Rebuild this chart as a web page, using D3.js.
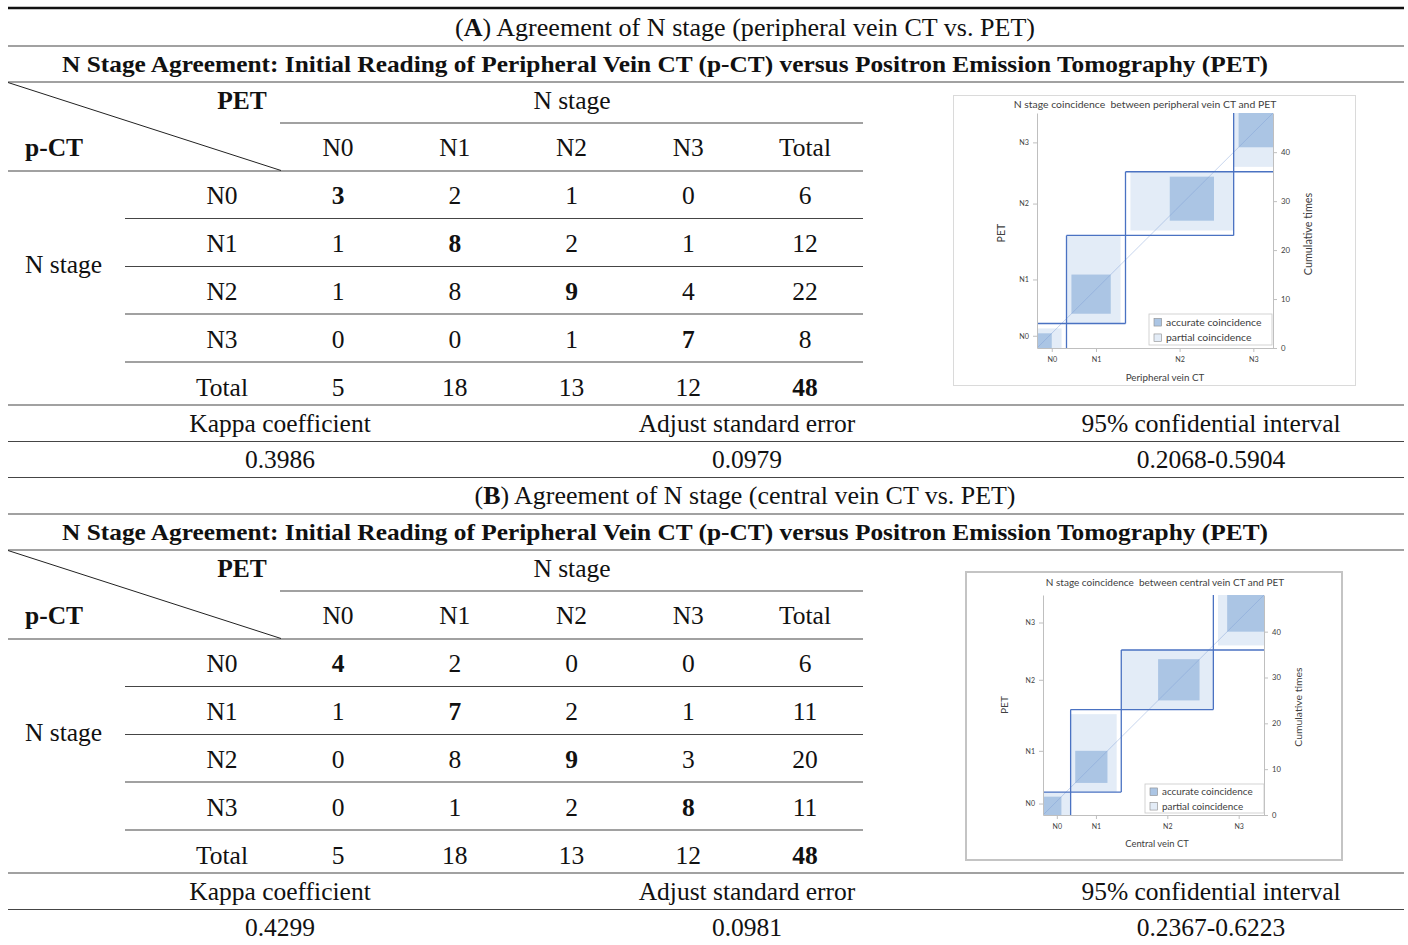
<!DOCTYPE html>
<html>
<head>
<meta charset="utf-8">
<script src="https://cdn.jsdelivr.net/npm/d3@7"></script>
<style>
  html, body { margin: 0; padding: 0; background: #fff; }
  svg { display: block; }
  .serif { font-family: "Liberation Serif", "Times New Roman", serif; fill: #111; }
  .sans { font-family: Lato, "Open Sans", sans-serif; fill: #404040; }
</style>
</head>
<body>
<div id="chart"></div>
<script>
// ---- data ----
const stages = ["N0", "N1", "N2", "N3"];
const columns = ["N0", "N1", "N2", "N3", "Total"];

// rows = p-CT stage, columns = PET stage
const matrixA = [
    [3, 2, 1, 0],
    [1, 8, 2, 1],
    [1, 8, 9, 4],
    [0, 0, 1, 7]
];
const matrixB = [
    [4, 2, 0, 0],
    [1, 7, 2, 1],
    [0, 8, 9, 3],
    [0, 1, 2, 8]
];

const statLabels = ["Kappa coefficient", "Adjust standard error", "95% confidential interval"];
const statsA = ["0.3986", "0.0979", "0.2068-0.5904"];
const statsB = ["0.4299", "0.0981", "0.2367-0.6223"];

const cumTicks = [0, 10, 20, 30, 40];

const mainTitle = "N Stage Agreement: Initial Reading of Peripheral Vein CT (p-CT) versus Positron Emission Tomography (PET)";

const W = 1408, H = 945;
const lineColor = "#454545";

const svg = d3.select("#chart").append("svg")
    .attr("width", W)
    .attr("height", H);

svg.append("rect").attr("width", W).attr("height", H).attr("fill", "#fff");

// ------------------------------------------------------------------
function hline(g, y, x1, x2, w) {
    g.append("line")
        .attr("x1", x1).attr("x2", x2)
        .attr("y1", y).attr("y2", y)
        .attr("stroke", w > 2 ? "#111" : lineColor)
        .attr("stroke-width", w || 1.2);
}

// ------------------------------------------------------------------
function drawTable(oy, letter, caption, captionLen, matrix, stats, topRule) {
    const g = svg.append("g").attr("transform", `translate(0,${oy})`);

    const rowTot = matrix.map(r => d3.sum(r));
    const colTot = stages.map((_, j) => d3.sum(matrix, r => r[j]));
    const grand = d3.sum(rowTot);

    // rules
    if (topRule) hline(g, 8, 8, 1404, 2.6);
    hline(g, 46, 8, 1404);
    hline(g, 82, 8, 1404);
    hline(g, 123, 280, 863);
    hline(g, 171, 8, 863);
    [218.5, 266.5, 314, 362].forEach(y => hline(g, y, 125, 863));
    hline(g, 405, 8, 1404);
    hline(g, 441.5, 8, 1404);
    hline(g, 477.5, 8, 1404);

    // header diagonal
    g.append("line")
        .attr("x1", 8).attr("y1", 82.5)
        .attr("x2", 281).attr("y2", 170.5)
        .attr("stroke", "#222").attr("stroke-width", 1);

    // captions
    const cap = g.append("text").attr("class", "serif")
        .attr("x", 745).attr("y", 35.5)
        .attr("text-anchor", "middle")
        .attr("font-size", 24.5)
        .attr("textLength", captionLen)
        .attr("lengthAdjust", "spacingAndGlyphs");
    cap.append("tspan").text("(");
    cap.append("tspan").attr("font-weight", "bold").text(letter);
    cap.append("tspan").text(") " + caption);

    g.append("text").attr("class", "serif")
        .attr("x", 665).attr("y", 71.5)
        .attr("text-anchor", "middle")
        .attr("font-size", 23.5)
        .attr("font-weight", "bold")
        .attr("textLength", 1206)
        .attr("lengthAdjust", "spacingAndGlyphs")
        .text(mainTitle);

    const fs = 25.5;

    g.append("text").attr("class", "serif")
        .attr("x", 242).attr("y", 108.5).attr("text-anchor", "middle")
        .attr("font-size", fs).attr("font-weight", "bold").text("PET");
    g.append("text").attr("class", "serif")
        .attr("x", 572).attr("y", 108.5).attr("text-anchor", "middle")
        .attr("font-size", fs).text("N stage");
    g.append("text").attr("class", "serif")
        .attr("x", 25).attr("y", 156).attr("font-size", fs)
        .attr("font-weight", "bold").text("p-CT");
    g.append("text").attr("class", "serif")
        .attr("x", 25).attr("y", 272.5).attr("font-size", fs).text("N stage");

    const xCol = d3.scalePoint().domain(columns).range([338, 805]);
    const yRow = d3.scalePoint().domain(columns).range([195, 387]);

    g.selectAll("text.colhead")
        .data(columns)
        .enter().append("text")
        .attr("class", "serif colhead")
        .attr("x", d => xCol(d)).attr("y", 156)
        .attr("text-anchor", "middle").attr("font-size", fs)
        .text(d => d);

    g.selectAll("text.rowhead")
        .data(columns)
        .enter().append("text")
        .attr("class", "serif rowhead")
        .attr("x", 222).attr("y", d => yRow(d) + 8.5)
        .attr("text-anchor", "middle").attr("font-size", fs)
        .text(d => d);

    // cells (including totals)
    const cells = [];
    matrix.forEach((r, i) => {
        r.forEach((v, j) => cells.push({ row: stages[i], col: stages[j], v, bold: i === j }));
        cells.push({ row: stages[i], col: "Total", v: rowTot[i], bold: false });
    });
    colTot.forEach((v, j) => cells.push({ row: "Total", col: stages[j], v, bold: false }));
    cells.push({ row: "Total", col: "Total", v: grand, bold: true });

    g.selectAll("text.cell")
        .data(cells)
        .enter().append("text")
        .attr("class", "serif cell")
        .attr("x", d => xCol(d.col)).attr("y", d => yRow(d.row) + 8.5)
        .attr("text-anchor", "middle").attr("font-size", fs)
        .attr("font-weight", d => d.bold ? "bold" : "normal")
        .text(d => d.v);

    // statistics
    const xStat = d3.scalePoint().domain(statLabels).range([280, 1211]);
    g.selectAll("text.statlab")
        .data(statLabels)
        .enter().append("text")
        .attr("class", "serif statlab")
        .attr("x", d => xStat(d) + (d === statLabels[1] ? 1.5 : 0)).attr("y", 431.5)
        .attr("text-anchor", "middle").attr("font-size", fs)
        .text(d => d);
    g.selectAll("text.statval")
        .data(stats)
        .enter().append("text")
        .attr("class", "serif statval")
        .attr("x", (d, i) => xStat(statLabels[i]) + (i === 1 ? 1.5 : 0)).attr("y", 467.5)
        .attr("text-anchor", "middle").attr("font-size", fs)
        .text(d => d);
}

// ------------------------------------------------------------------
// Agreement chart (accurate / partial coincidence)
function drawAgreement(matrix, cfg) {
    const g = svg.append("g");

    g.append("rect")
        .attr("x", cfg.frame[0]).attr("y", cfg.frame[1])
        .attr("width", cfg.frame[2]).attr("height", cfg.frame[3])
        .attr("fill", "#fff")
        .attr("stroke", cfg.frameColor).attr("stroke-width", cfg.frameWidth);

    const rowTot = matrix.map(r => d3.sum(r));
    const colTot = stages.map((_, j) => d3.sum(matrix, r => r[j]));
    const total = d3.sum(rowTot);
    const cx = [0, ...d3.cumsum(rowTot)];
    const cy = [0, ...d3.cumsum(colTot)];

    const x = d3.scaleLinear().domain([0, total]).range([cfg.plot[0], cfg.plot[1]]);
    const y = d3.scaleLinear().domain([0, total]).range([cfg.plot[3], cfg.plot[2]]);

    const part = (arr, a, b) => d3.sum(arr.slice(Math.max(a, 0), Math.max(b, 0)));

    const boxes = stages.map((s, i) => {
        const rowV = matrix[i];
        const colV = matrix.map(r => r[i]);
        return {
            xs: cx[i], xe: cx[i + 1], ys: cy[i], ye: cy[i + 1],
            px0: cx[i] + part(rowV, 0, i - 1), px1: cx[i] + part(rowV, 0, i + 2),
            py0: cy[i] + part(colV, 0, i - 1), py1: cy[i] + part(colV, 0, i + 2),
            ax0: cx[i] + part(rowV, 0, i), ax1: cx[i] + part(rowV, 0, i + 1),
            ay0: cy[i] + part(colV, 0, i), ay1: cy[i] + part(colV, 0, i + 1)
        };
    });

    const light = "#e3ecf7", dark = "#abc5e4", blue = "#4a72c2";

    g.selectAll("rect.partial").data(boxes).enter().append("rect")
        .attr("x", d => x(d.px0)).attr("width", d => x(d.px1) - x(d.px0))
        .attr("y", d => y(d.py1)).attr("height", d => y(d.py0) - y(d.py1))
        .attr("fill", light);
    g.selectAll("rect.accurate").data(boxes).enter().append("rect")
        .attr("x", d => x(d.ax0)).attr("width", d => x(d.ax1) - x(d.ax0))
        .attr("y", d => y(d.ay1)).attr("height", d => y(d.ay0) - y(d.ay1))
        .attr("fill", dark);

    // diagonal
    g.append("line")
        .attr("x1", x(0)).attr("y1", y(0)).attr("x2", x(total)).attr("y2", y(total))
        .attr("stroke", "#7f9fd6").attr("stroke-opacity", 0.55).attr("stroke-width", 0.8);

    // box outlines (interior edges only)
    const path = d3.path();
    boxes.forEach(b => {
        if (b.xs > 0) { path.moveTo(x(b.xs), y(b.ys)); path.lineTo(x(b.xs), y(b.ye)); }
        if (b.ys > 0) { path.moveTo(x(b.xs), y(b.ys)); path.lineTo(x(b.xe), y(b.ys)); }
        if (b.xe < total) { path.moveTo(x(b.xe), y(b.ys)); path.lineTo(x(b.xe), y(b.ye)); }
        if (b.ye < total) { path.moveTo(x(b.xs), y(b.ye)); path.lineTo(x(b.xe), y(b.ye)); }
    });
    g.append("path").attr("d", path.toString())
        .attr("fill", "none").attr("stroke", blue).attr("stroke-width", 1.3);

    // axes
    const xMid = stages.map((_, i) => (cx[i] + cx[i + 1]) / 2);
    const yMid = stages.map((_, i) => (cy[i] + cy[i + 1]) / 2);

    const styleAxis = (a, fsz) => {
        a.select(".domain").attr("stroke", "#bfbfbf").attr("stroke-width", 1);
        a.selectAll(".tick line").attr("stroke", "#bfbfbf");
        a.selectAll(".tick text")
            .attr("font-family", "Lato, 'Open Sans', sans-serif")
            .attr("font-size", fsz).attr("fill", "#404040");
    };

    const ax = g.append("g")
        .attr("transform", `translate(0,${cfg.plot[3]})`)
        .call(d3.axisBottom(x).tickValues(xMid).tickFormat((d, i) => stages[i])
            .tickSize(4).tickSizeOuter(0).tickPadding(5));
    styleAxis(ax, cfg.tickFs);

    const ayL = g.append("g")
        .attr("transform", `translate(${cfg.plot[0]},0)`)
        .call(d3.axisLeft(y).tickValues(yMid).tickFormat((d, i) => stages[i])
            .tickSize(4).tickSizeOuter(0).tickPadding(4));
    styleAxis(ayL, cfg.tickFs);

    const ayR = g.append("g")
        .attr("transform", `translate(${cfg.plot[1]},0)`)
        .call(d3.axisRight(y).tickValues(cumTicks)
            .tickSize(4).tickSizeOuter(0).tickPadding(4));
    styleAxis(ayR, cfg.tickFs + 0.6);

    // labels
    g.append("text").attr("class", "sans")
        .attr("x", cfg.title[0]).attr("y", cfg.title[1])
        .attr("text-anchor", "middle").attr("font-size", cfg.titleFs)
        .attr("xml:space", "preserve")
        .text(cfg.titleText);
    g.append("text").attr("class", "sans")
        .attr("x", cfg.xlab[0]).attr("y", cfg.xlab[1])
        .attr("text-anchor", "middle").attr("font-size", cfg.labFs)
        .text(cfg.xlabText);
    g.append("text").attr("class", "sans")
        .attr("transform", `translate(${cfg.ylab[0]},${cfg.ylab[1]}) rotate(-90)`)
        .attr("text-anchor", "middle").attr("font-size", cfg.labFs + 0.8)
        .text("PET");
    g.append("text").attr("class", "sans")
        .attr("transform", `translate(${cfg.rlab[0]},${cfg.rlab[1]}) rotate(-90)`)
        .attr("text-anchor", "middle").attr("font-size", cfg.labFs + 1)
        .text("Cumulative times");

    // legend
    const [lx, ly, lw, lh] = cfg.legend;
    const lg = g.append("g").attr("transform", `translate(${lx},${ly})`);
    lg.append("rect").attr("width", lw).attr("height", lh)
        .attr("fill", "#fff").attr("stroke", "#c8c8c8").attr("stroke-width", 0.8);
    const items = [
        { name: "accurate coincidence", fill: dark },
        { name: "partial coincidence", fill: light }
    ];
    const rowH = lh / 2;
    items.forEach((it, i) => {
        const cyy = rowH * (i + 0.5) + 0.5;
        lg.append("rect")
            .attr("x", 5).attr("y", cyy - 3.8)
            .attr("width", 7.6).attr("height", 7.6)
            .attr("fill", it.fill).attr("stroke", "#8c8c8c").attr("stroke-width", 0.6);
        lg.append("text").attr("class", "sans")
            .attr("x", 17).attr("y", cyy + 3.3)
            .attr("font-size", cfg.legFs)
            .text(it.name);
    });
}

// ------------------------------------------------------------------
drawTable(0, "A", "Agreement of N stage (peripheral vein CT vs. PET)", 580, matrixA, statsA, true);
drawTable(468, "B", "Agreement of N stage (central vein CT vs. PET)", 541, matrixB, statsB, false);

drawAgreement(matrixA, {
    frame: [953.5, 95.5, 402, 290], frameColor: "#dadada", frameWidth: 1,
    plot: [1037, 1273, 113, 348],
    title: [1145, 107.5], titleText: "N stage coincidence  between peripheral vein CT and PET", titleFs: 10.4,
    xlab: [1165, 380.5], xlabText: "Peripheral vein CT", labFs: 9.8,
    ylab: [1005, 233], rlab: [1312, 234],
    legend: [1149, 314, 123, 31], legFs: 10.4, tickFs: 7.2
});

drawAgreement(matrixB, {
    frame: [966, 572, 376, 288], frameColor: "#c4c4c4", frameWidth: 2,
    plot: [1043, 1264, 595, 815],
    title: [1165, 586], titleText: "N stage coincidence  between central vein CT and PET", titleFs: 10,
    xlab: [1157, 846.5], xlabText: "Central vein CT", labFs: 9.4,
    ylab: [1007.5, 705], rlab: [1302, 707],
    legend: [1145, 784, 119, 29], legFs: 9.9, tickFs: 7
});
</script>
</body>
</html>
